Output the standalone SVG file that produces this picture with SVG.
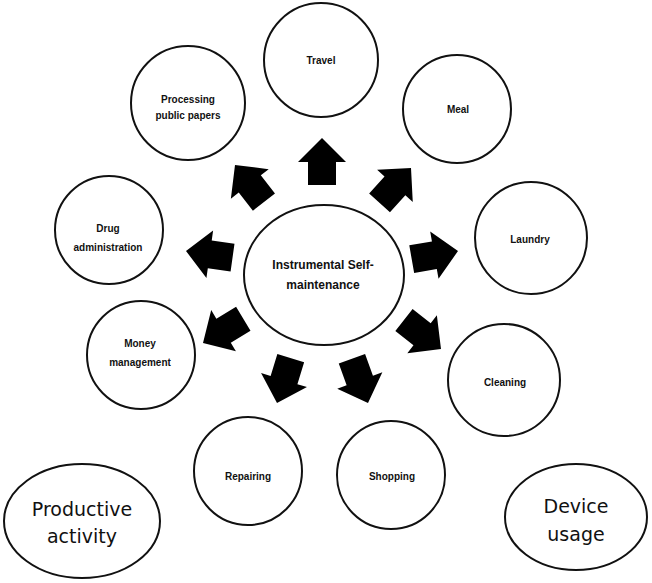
<svg xmlns="http://www.w3.org/2000/svg" width="652" height="583" viewBox="0 0 652 583">
<defs>
<style>
.node{fill:#fff;stroke:#111;stroke-width:2}
.lbl{font-family:"Liberation Sans",Arial,sans-serif;font-weight:bold;font-size:10px;fill:#111;text-anchor:middle}
.ctr{font-family:"Liberation Sans",Arial,sans-serif;font-weight:bold;font-size:12px;fill:#111;text-anchor:middle}
.big{font-family:"DejaVu Sans","Liberation Sans",sans-serif;font-size:19px;fill:#111;text-anchor:middle}
.arr{fill:#000}
</style>
<path id="arrow" d="M0,0 L-24,-24 L-24,-14 L-47,-14 L-47,14 L-24,14 L-24,24 Z"/>
</defs>
<rect width="652" height="583" fill="#fff"/>
<g id="center">
<ellipse class="node" cx="324" cy="275" rx="80" ry="70"/>
<text class="ctr" x="323" y="269">Instrumental Self-</text>
<text class="ctr" x="323" y="289">maintenance</text>
</g>
<g id="travel"><circle class="node" cx="321" cy="60" r="57"/><text class="lbl" x="321" y="64">Travel</text></g>
<g id="meal"><circle class="node" cx="457" cy="109" r="54"/><text class="lbl" x="458" y="113">Meal</text></g>
<g id="laundry"><circle class="node" cx="531" cy="238" r="56"/><text class="lbl" x="530" y="243">Laundry</text></g>
<g id="cleaning"><circle class="node" cx="504" cy="380" r="56"/><text class="lbl" x="505" y="386">Cleaning</text></g>
<g id="shopping"><circle class="node" cx="391" cy="475" r="54"/><text class="lbl" x="392" y="480">Shopping</text></g>
<g id="repairing"><circle class="node" cx="248" cy="471" r="54"/><text class="lbl" x="248" y="480">Repairing</text></g>
<g id="money"><circle class="node" cx="141" cy="355" r="54"/><text class="lbl" x="140" y="347">Money</text><text class="lbl" x="140" y="366">management</text></g>
<g id="drug"><circle class="node" cx="109" cy="230" r="54"/><text class="lbl" x="108" y="232">Drug</text><text class="lbl" x="108" y="251">administration</text></g>
<g id="papers"><circle class="node" cx="188" cy="103" r="57"/><text class="lbl" x="188" y="103">Processing</text><text class="lbl" x="188" y="119">public papers</text></g>
<g id="productive"><ellipse class="node" cx="82" cy="521" rx="78" ry="57"/><text class="big" x="82" y="516">Productive</text><text class="big" x="82" y="543">activity</text></g>
<g id="device"><ellipse class="node" cx="576" cy="517" rx="71" ry="53"/><text class="big" x="576" y="513">Device</text><text class="big" x="576" y="541">usage</text></g>
<g id="connectors" class="arr">
<use href="#arrow" transform="translate(322,138) rotate(-90)"/>
<use href="#arrow" transform="translate(235,165) rotate(-128)"/>
<use href="#arrow" transform="translate(411,168) rotate(-48)"/>
<use href="#arrow" transform="translate(458,251) rotate(-10)"/>
<use href="#arrow" transform="translate(441,349) rotate(38)"/>
<use href="#arrow" transform="translate(368,403) rotate(70)"/>
<use href="#arrow" transform="translate(277,403) rotate(107)"/>
<use href="#arrow" transform="translate(203,343) rotate(149)"/>
<use href="#arrow" transform="translate(186,251) rotate(188)"/>
</g>
</svg>
